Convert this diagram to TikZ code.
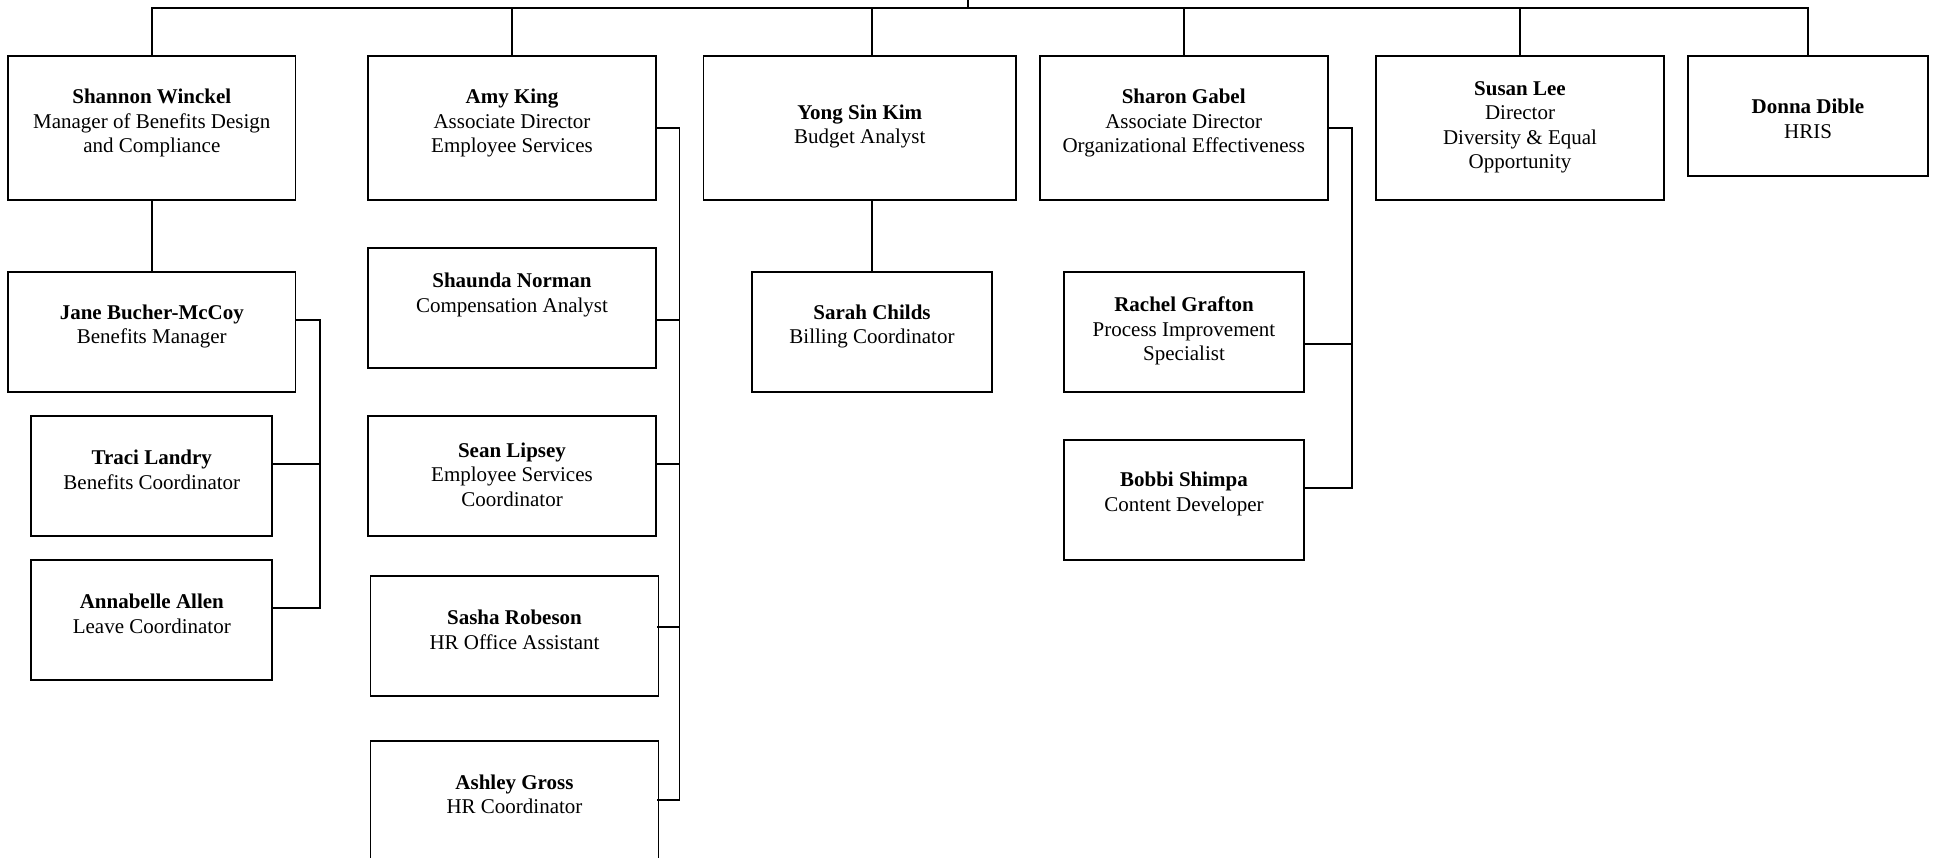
\documentclass[tikz,border=0pt]{standalone}
\usepackage{fontspec}
\setmainfont{Liberation Serif}
\begin{document}
\begin{tikzpicture}[x=1pt,y=-1pt,line width=1.8pt,
  box/.style={draw,rectangle,inner sep=0pt,minimum height=120pt},
  tall/.style={minimum height=144pt},
  txt/.style={align=center,inner sep=0pt,font=\fontsize{21}{24.5}\selectfont}]
\useasboundingbox (0,0) rectangle (1935,858);
% top row
\node[box,tall,minimum width=287.5pt] (sw) at (151.8,128) {};
\node[txt] (sw-t) at (151.8,123) {\textbf{Shannon Winckel}\\Manager of Benefits Design\\and Compliance};
\node[box,tall,minimum width=288pt] (ak) at (512,128) {};
\node[txt] (ak-t) at (512,123) {\textbf{Amy King}\\Associate Director\\Employee Services};
\node[box,tall,minimum width=312.5pt] (yk) at (859.8,128) {};
\node[txt] (yk-t) at (859.8,126.7) {\textbf{Yong Sin Kim}\\Budget Analyst};
\node[box,tall,minimum width=288pt] (sg) at (1183.7,128) {};
\node[txt] (sg-t) at (1183.7,123) {\textbf{Sharon Gabel}\\Associate Director\\Organizational Effectiveness};
\node[box,tall,minimum width=288pt] (sl) at (1520,128) {};
\node[txt] (sl-t) at (1520,127.5) {\textbf{Susan Lee}\\Director\\Diversity \& Equal\\Opportunity};
\node[box,minimum width=240pt] (dd) at (1808,116) {};
\node[txt] (dd-t) at (1808,118.7) {\textbf{Donna Dible}\\HRIS};
% Shannon's team
\node[box,minimum width=287.5pt] (jb) at (151.8,332) {};
\node[txt] (jb-t) at (151.8,326.5) {\textbf{Jane Bucher-McCoy}\\Benefits Manager};
\node[box,minimum width=241pt] (tl) at (151.8,476) {};
\node[txt] (tl-t) at (151.8,470) {\textbf{Traci Landry}\\Benefits Coordinator};
\node[box,minimum width=241pt] (aa) at (151.8,620) {};
\node[txt] (aa-t) at (151.8,614) {\textbf{Annabelle Allen}\\Leave Coordinator};
% Amy's team
\node[box,minimum width=288pt] (sn) at (512,308) {};
\node[txt] (sn-t) at (512,295) {\textbf{Shaunda Norman}\\Compensation Analyst};
\node[box,minimum width=288pt] (sp) at (512,476) {};
\node[txt] (sp-t) at (512,474.7) {\textbf{Sean Lipsey}\\Employee Services\\Coordinator};
\node[box,minimum width=288pt] (sr) at (514.5,635.7) {};
\node[txt] (sr-t) at (514.5,630) {\textbf{Sasha Robeson}\\HR Office Assistant};
\node[box,minimum width=288pt] (ag) at (514.5,800.7) {};
\node[txt] (ag-t) at (514.5,794.5) {\textbf{Ashley Gross}\\HR Coordinator};
% Yong's team
\node[box,minimum width=240pt] (sc) at (872,332) {};
\node[txt] (sc-t) at (872,326.7) {\textbf{Sarah Childs}\\Billing Coordinator};
% Sharon's team
\node[box,minimum width=240pt] (rg) at (1184,332) {};
\node[txt] (rg-t) at (1184,331) {\textbf{Rachel Grafton}\\Process Improvement\\Specialist};
\node[box,minimum width=240pt] (bs) at (1184,500) {};
\node[txt] (bs-t) at (1184,494) {\textbf{Bobbi Shimpa}\\Content Developer};
% connectors
\coordinate (root) at (968,0);
\coordinate (bus) at (968,8);
\coordinate (jbx) at (319.6,0);
\coordinate (akx) at (679.5,0);
\coordinate (sgx) at (1351.8,0);
\draw (root) -- (bus);
\draw (sw.north) -- (sw.north |- bus) -- (dd.north |- bus) -- (dd.north);
\draw (ak.north) -- (ak.north |- bus);
\draw (sc.north |- yk.north) -- (sc.north |- bus);
\draw (sg.north) -- (sg.north |- bus);
\draw (sl.north) -- (sl.north |- bus);
\draw (sw.south) -- (jb.north);
\draw (sc.north |- yk.south) -- (sc.north);
% Jane bracket
\draw (jb.east |- 0,320) -- (jbx |- 0,320) -- (jbx |- 0,608) -- (aa.east |- 0,608);
\draw (tl.east |- 0,464) -- (jbx |- 0,464);
% Amy bracket
\draw (ak.east) -- (akx |- ak.east) -- (akx |- 0,800) -- ([xshift=-2pt]ag.east |- 0,800);
\draw (sn.east |- 0,320) -- (akx |- 0,320);
\draw (sp.east |- 0,464) -- (akx |- 0,464);
\draw ([xshift=-2pt]sr.east |- 0,627) -- (akx |- 0,627);
% Sharon bracket
\draw (sg.east) -- (sgx |- sg.east) -- (sgx |- 0,488) -- (bs.east |- 0,488);
\draw (rg.east |- 0,344) -- (sgx |- 0,344);
\end{tikzpicture}
\end{document}
